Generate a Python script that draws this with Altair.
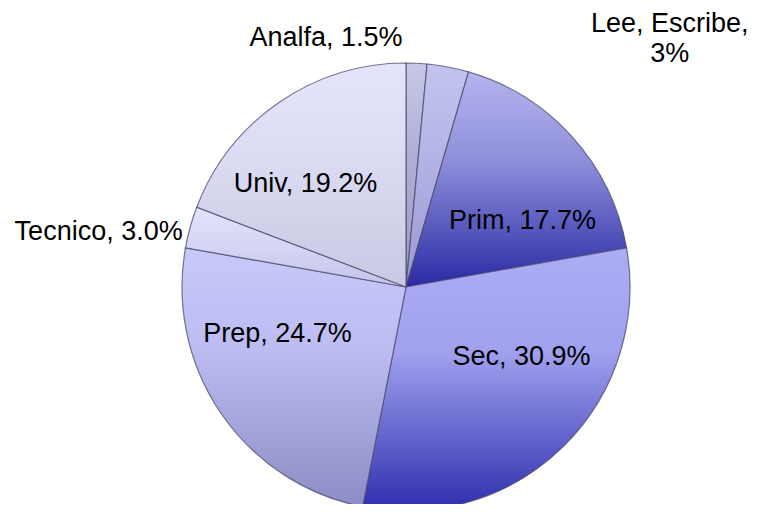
import altair as alt
import pandas as pd

categories = ["Analfa", "Lee, Escribe", "Prim", "Sec", "Prep", "Tecnico", "Univ"]
values = [1.5, 3.0, 17.7, 30.9, 24.7, 3.0, 19.2]
labels = ["Analfa, 1.5%", "Lee, Escribe,\n3%", "Prim, 17.7%", "Sec, 30.9%",
          "Prep, 24.7%", "Tecnico, 3.0%", "Univ, 19.2%"]

# styles (per slice gradient top / middle / bottom colours)
top_colors = ["#c8c8e6", "#c4c4f0", "#b4b4ee", "#acacf6", "#c8c8fa", "#e4e4fa", "#e4e4fa"]
mid_colors = ["#b0b0d4", "#b4b4e6", "#9090dc", "#a0a0ee", "#bcbcf2", "#d8d8f6", "#dcdcf4"]
bottom_colors = ["#9a9ac2", "#9898d2", "#2a2aa4", "#2e2eae", "#8c8cc6", "#c4c4ea", "#c8c8e2"]
# label placement styles: radius, dx, dy, align
label_style = [
    (255, -92, 6, "center"),
    (255, 216, -13, "center"),
    (135, 16, 24, "center"),
    (135, 21, -26, "center"),
    (135, -17, -29, "center"),
    (240, 8, 9, "right"),
    (135, -24, 8, "center"),
]

df = pd.DataFrame({
    "cat": categories,
    "value": values,
    "label": labels,
    "order": list(range(len(categories))),
})

base = alt.Chart(df).transform_window(
    end="sum(value)", sort=[alt.SortField("order")], frame=[None, 0]
).transform_calculate(
    start="datum.end - datum.value",
    mid="datum.end - datum.value / 2",
)

theta_scale = alt.Scale(domain=[0, 100])
layers = []
for i, cat in enumerate(categories):
    grad = alt.LinearGradient(
        gradient="linear",
        stops=[alt.GradientStop(color=top_colors[i], offset=0),
               alt.GradientStop(color=mid_colors[i], offset=0.4),
               alt.GradientStop(color=bottom_colors[i], offset=1)],
        x1=0, y1=0, x2=0, y2=1,
    )
    layers.append(
        base.transform_filter(alt.datum.cat == cat)
        .mark_arc(radius=224, color=grad, stroke="#4a4a6e", strokeWidth=1.2, strokeOpacity=0.75)
        .encode(
            theta=alt.Theta("start:Q", scale=theta_scale),
            theta2="end:Q",
        )
    )

for i, cat in enumerate(categories):
    r, dx, dy, align = label_style[i]
    layers.append(
        base.transform_filter(alt.datum.cat == cat)
        .mark_text(font="Liberation Sans", fontSize=27, color="black",
                   dx=dx, dy=dy, align=align, baseline="middle",
                   lineBreak="\n", lineHeight=30)
        .encode(
            theta=alt.Theta("mid:Q", scale=theta_scale),
            radius=alt.value(r),
            text="label:N",
        )
    )

chart = alt.layer(*layers).properties(
    width=690, height=434,
    autosize=alt.AutoSizeParams(type="none"),
    padding={"left": 53, "top": 62, "right": 0, "bottom": 0},
).configure_view(stroke=None)

chart.save("out.html", embed_options={"renderer": "svg", "actions": False})
